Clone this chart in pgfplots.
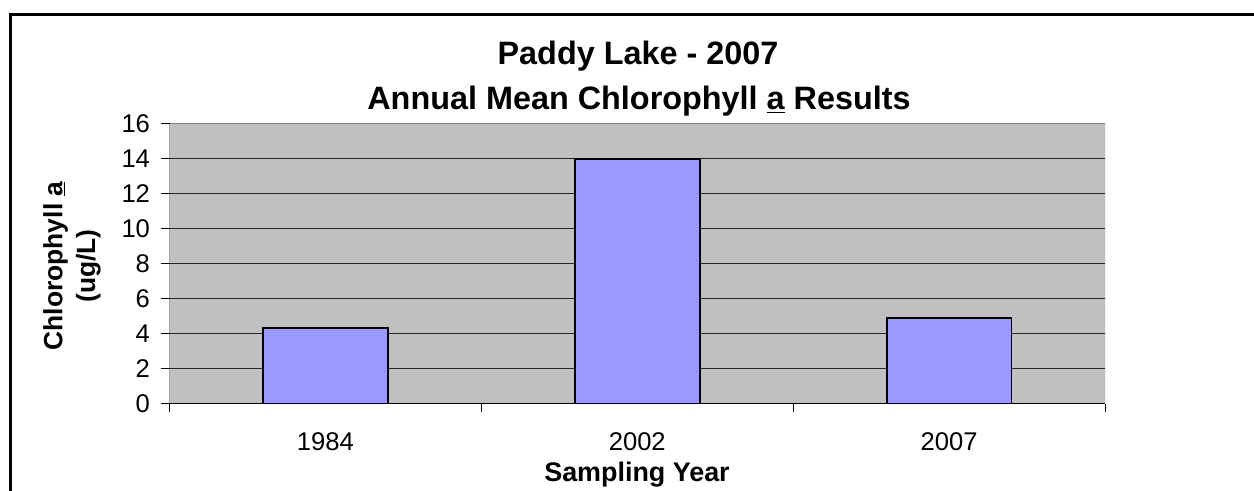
\documentclass[border=0pt]{standalone}
\usepackage{pgfplots}
\pgfplotsset{compat=1.18}
\usepackage{fontspec}
\setmainfont{Liberation Sans}
\definecolor{barfill}{HTML}{9999FF}
\definecolor{plotbg}{HTML}{C0C0C0}
\begin{document}
\begin{tikzpicture}[x=1bp,y=1bp]
\path[use as bounding box] (0,0) rectangle (1254,491);
\draw[line width=2.5bp, black] (10.5,0) -- (10.5,476.5) -- (1254,476.5);
\begin{axis}[
  at={(169.5bp,87bp)}, anchor=south west,
  scale only axis, width=935.5bp, height=280bp,
  xmin=-0.5, xmax=2.5, ymin=0, ymax=16,
  axis background/.style={fill=plotbg},
  axis line style={draw=none},
  ytick={0,2,...,16},
  xtick={0,1,2}, xticklabels={1984,2002,2007},
  minor xtick={-0.5,0.5,1.5,2.5},
  major x tick style={draw=none},
  tick pos=left, tick align=outside,
  major tick length=9bp, minor tick length=8bp,
  tick style={black, line width=1bp},
  ymajorgrids,
  major grid style={black!85, line width=1bp},
  /pgf/number format/assume math mode=true,
  ticklabel style={font=\fontsize{25.7}{30}\selectfont},
  xticklabel style={yshift=-16bp},
  yticklabel style={xshift=-7bp},
]
\addplot[ybar, bar width=0.4, fill=barfill, draw=black, line width=1.8bp]
  coordinates {(0,4.34) (1,14.0) (2,4.93)};
\draw[gray, line width=1bp] (rel axis cs:0,1) -- (rel axis cs:1,1) -- (rel axis cs:1,0);
\draw[black, line width=1.2bp] (rel axis cs:0,1) -- (rel axis cs:0,0) -- (rel axis cs:1,0);
\end{axis}
\node[anchor=base, font=\bfseries\fontsize{32.5}{36}\selectfont, inner sep=0] at (638,426) {Paddy Lake - 2007};
\node[anchor=base, font=\bfseries\fontsize{32.5}{36}\selectfont, inner sep=0] at (639,381) {Annual Mean Chlorophyll \underline{a} Results};
\node[rotate=90, align=center, font=\bfseries\fontsize{26.5}{33}\selectfont, inner sep=0] at (72,225) {Chlorophyll \underline{a}\\(ug/L)};
\node[anchor=base, font=\bfseries\fontsize{27}{30}\selectfont, inner sep=0] at (637,9) {Sampling Year};
\end{tikzpicture}
\end{document}
